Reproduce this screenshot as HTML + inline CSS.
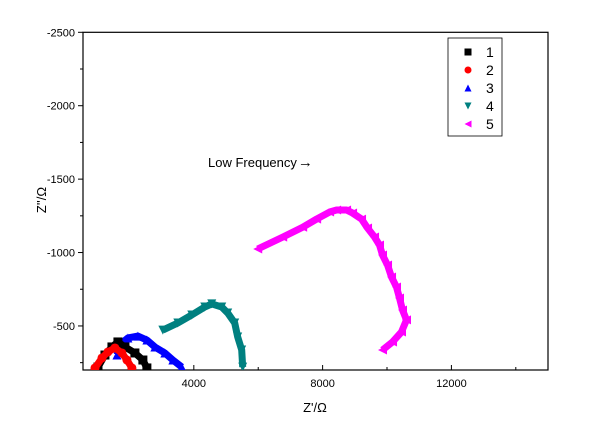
<!DOCTYPE html>
<html><head><meta charset="utf-8"><style>
body{margin:0;background:#fff}
svg text{font-family:"Liberation Sans",Arial,sans-serif;fill:#000}
</style></head><body>
<svg width="600" height="423" viewBox="0 0 600 423">
<g id="axes"></g><g id="plot"></g><g id="legend"></g>
<text x="208" y="167" font-size="13">Low Frequency<tspan font-size="15" dx="1">→</tspan></text>
<text x="315" y="412" font-size="13" text-anchor="middle">Z'/Ω</text>
<text transform="translate(46,200) rotate(-90)" font-size="13" text-anchor="middle">Z''/Ω</text>
</svg>
<script>
const xTicks=[4000,8000,12000];
const yTicks=[-2500,-2000,-1500,-1000,-500];
const seriesNames=["1","2","3","4","5"];
const s1x=[1023,1240,1457,1643,1860,2170,2418,2542];
const s1y=[-220,-302,-357,-391,-357,-316,-268,-214];
const s2x=[930,1147,1333,1550,1767,1922,2077];
const s2y=[-214,-282,-323,-350,-316,-268,-214];
const s3x=[1612,1767,1953,2263,2542,2790,3100,3348,3627];
const s3y=[-302,-384,-418,-431,-404,-357,-316,-268,-220];
const s4x=[3038,3503,3937,4340,4557,4867,5053,5270,5363,5487,5518];
const s4y=[-472,-520,-575,-629,-650,-629,-588,-520,-425,-336,-220];
const s5x=[5984,6760,7380,7814,8217,8434,8744,8930,9209,9395,9612,9767,9860,10016,10140,10295,10388,10481,10605,10450,10171,9860];
const s5y=[-1024,-1105,-1172,-1228,-1276,-1290,-1290,-1269,-1228,-1167,-1106,-1051,-983,-915,-833,-765,-690,-609,-541,-459,-391,-336];
const NS="http://www.w3.org/2000/svg";
const L=83,R=548,T=32.3,B=370;
const xmin=558,xmax=15000,ymin=-200,ymax=-2500;
const X=v=>L+(v-xmin)/(xmax-xmin)*(R-L);
const Y=v=>B+(v-ymin)/(ymax-ymin)*(T-B);
function mk(tag,at,parent){const e=document.createElementNS(NS,tag);for(const k in at)e.setAttribute(k,at[k]);parent.appendChild(e);return e;}
const axes=document.getElementById('axes'),plot=document.getElementById('plot'),leg=document.getElementById('legend');
const frame=mk('rect',{x:L,y:T,width:R-L,height:B-T,fill:'none',stroke:'#000','stroke-width':1.2},axes);


xTicks.forEach(v=>{
  mk('line',{x1:X(v),x2:X(v),y1:B,y2:B-5,stroke:'#000'},axes);
  const t=mk('text',{x:X(v),y:B+17,'font-size':11,'text-anchor':'middle'},axes);t.textContent=v;
  
  
  const m=v+2000;
  mk('line',{x1:X(m),x2:X(m),y1:B,y2:B-3,stroke:'#000'},axes);
});
yTicks.forEach(v=>{
  mk('line',{x1:L,x2:L-5,y1:Y(v),y2:Y(v),stroke:'#000'},axes);
  const t=mk('text',{x:L-8,y:Y(v)+4,'font-size':11,'text-anchor':'end'},axes);t.textContent=v;
  
  
  const m=v+250;
  mk('line',{x1:L,x2:L-3,y1:Y(m),y2:Y(m),stroke:'#000'},axes);
});
const colors=['#000','#f00','#00f','#008080','#f0f'];
const shapes=['sq','ci','up','dn','lt'];
function marker(shape,cx,cy,c,parent,s){
  s=s||4;
  if(shape==='sq')return mk('rect',{x:cx-s,y:cy-s,width:2*s,height:2*s,fill:c},parent);
  if(shape==='ci')return mk('circle',{cx,cy,r:s,fill:c},parent);
  let p;
  if(shape==='up')p=[[cx,cy-s],[cx-s,cy+s],[cx+s,cy+s]];
  if(shape==='dn')p=[[cx,cy+s],[cx-s,cy-s],[cx+s,cy-s]];
  if(shape==='lt')p=[[cx-s,cy],[cx+s,cy-s],[cx+s,cy+s]];
  return mk('polygon',{points:p.map(a=>a.join(',')).join(' '),fill:c},parent);
}
const clip=mk('clipPath',{id:'cp'},plot);mk('rect',{x:L,y:T,width:R-L,height:B-T},clip);
const g=mk('g',{'clip-path':'url(#cp)'},plot);
const all=[[s1x,s1y],[s2x,s2y],[s3x,s3y],[s4x,s4y],[s5x,s5y]];
const order=[2,0,1,3,4];
order.forEach(i=>{
  const [xs,ys]=all[i];
  const line=mk('polyline',{points:xs.map((x,j)=>X(x)+','+Y(ys[j])).join(' '),fill:'none',stroke:colors[i],'stroke-width':7,'stroke-linejoin':'round'},g);
  
  
  xs.forEach((x,j)=>{
    const m=marker(shapes[i],X(x),Y(ys[j]),colors[i],g,4.5);
    
    
  });
});
const box=mk('rect',{x:448,y:38,width:54,height:98,fill:'#fff',stroke:'#000','stroke-width':0.8},leg);


seriesNames.forEach((n,i)=>{
  const y=52+i*18;
  const m=marker(shapes[i],468,y,colors[i],leg,3.5);
  
  
  const t=mk('text',{x:486,y:y+5,'font-size':14},leg);t.textContent=n;
  
  
});
</script>
</body></html>
